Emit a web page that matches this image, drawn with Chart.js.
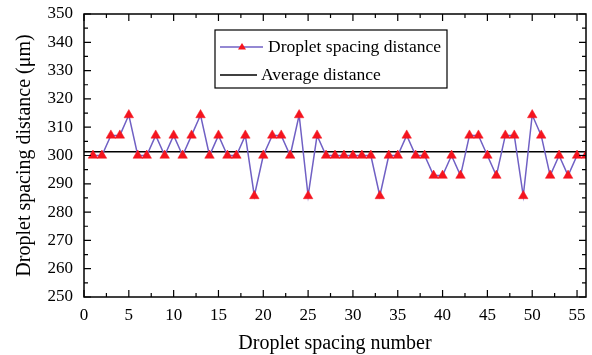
<!DOCTYPE html>
<html>
<head>
<meta charset="utf-8">
<script src="https://cdn.jsdelivr.net/npm/chart.js@4.4.0/dist/chart.umd.min.js"></script>
<style>
html,body{margin:0;padding:0;background:#fff;}
#wrap{width:592px;height:355px;position:relative;}
</style>
</head>
<body>
<div id="wrap"><canvas id="c" width="592" height="355"></canvas></div>
<script>
const spacingNumber = [1,2,3,4,5,6,7,8,9,10,11,12,13,14,15,16,17,18,19,20,21,22,23,24,25,26,27,28,29,30,31,32,33,34,35,36,37,38,39,40,41,42,43,44,45,46,47,48,49,50,51,52,53,54,55,56];
const spacingDistance = [300,300,307.1,307.1,314.3,300,300,307.1,300,307.1,300,307.1,314.3,300,307.1,300,300,307.1,285.7,300,307.1,307.1,300,314.3,285.7,307.1,300,300,300,300,300,300,285.7,300,300,307.1,300,300,292.9,292.9,300,292.9,307.1,307.1,300,292.9,307.1,307.1,285.7,314.3,307.1,292.9,300,292.9,300,300];
const averageDistance = 301.3;
const averageRange = [0,56];
const xTicks = [0,5,10,15,20,25,30,35,40,45,50,55];
const yTicks = [250,260,270,280,290,300,310,320,330,340,350];
const seriesLabels = ["Droplet spacing distance","Average distance"];

const FONT = "'Liberation Serif','Times New Roman',serif";

const frame = {
  id:'frame',
  afterDatasetsDraw(chart){
    const {ctx, chartArea:a, scales:{x,y}} = chart;
    ctx.save();
    ctx.strokeStyle='#000';
    ctx.lineWidth=1.5;
    ctx.strokeRect(a.left,a.top,a.right-a.left,a.bottom-a.top);
    ctx.lineWidth=1.2;
    ctx.beginPath();
    for(let v=0; v<=56; v+=2.5){
      const px=x.getPixelForValue(v);
      if(px>a.right+0.5) break;
      const len = (v%5===0)?7:4;
      ctx.moveTo(px,a.bottom); ctx.lineTo(px,a.bottom-len);
      ctx.moveTo(px,a.top); ctx.lineTo(px,a.top+len);
    }
    for(let v=250; v<=350; v+=5){
      const py=y.getPixelForValue(v);
      const len = (v%10===0)?7:4;
      ctx.moveTo(a.left,py); ctx.lineTo(a.left+len,py);
      ctx.moveTo(a.right,py); ctx.lineTo(a.right-len,py);
    }
    ctx.stroke();

    // legend
    const bx=215, by=30, bw=232, bh=58;
    ctx.fillStyle='#fff';
    ctx.fillRect(bx,by,bw,bh);
    ctx.lineWidth=1.2;
    ctx.strokeRect(bx,by,bw,bh);
    const ds0=chart.data.datasets[0], ds1=chart.data.datasets[1];
    // entry 1
    let ly=by+17;
    ctx.strokeStyle=ds0.borderColor; ctx.lineWidth=1.5;
    ctx.beginPath(); ctx.moveTo(bx+5,ly); ctx.lineTo(bx+48,ly); ctx.stroke();
    ctx.fillStyle=ds0.pointBackgroundColor;
    ctx.beginPath(); ctx.moveTo(bx+27,ly-4); ctx.lineTo(bx+31,ly+2.5); ctx.lineTo(bx+23,ly+2.5); ctx.closePath(); ctx.fill();
    ctx.fillStyle='#000';
    ctx.font="17.5px "+FONT;
    ctx.textBaseline='middle';
    ctx.fillText(ds0.label,bx+53,ly);
    // entry 2
    ly=by+45;
    ctx.strokeStyle=ds1.borderColor; ctx.lineWidth=1.5;
    ctx.beginPath(); ctx.moveTo(bx+5,ly); ctx.lineTo(bx+42,ly); ctx.stroke();
    ctx.fillText(ds1.label,bx+46,ly);
    ctx.restore();
  }
};

new Chart(document.getElementById('c'),{
  type:'line',
  data:{
    datasets:[
      {
        label:seriesLabels[0],
        data:spacingNumber.map((n,i)=>({x:n,y:spacingDistance[i]})),
        borderColor:'#7060c4',
        borderWidth:1.5,
        pointStyle:'triangle',
        pointRadius:5.5,
        pointBackgroundColor:'#f5141e',
        pointBorderColor:'#f5141e',
        pointBorderWidth:0.5,
        tension:0,
        order:0
      },
      {
        label:seriesLabels[1],
        data:averageRange.map(v=>({x:v,y:averageDistance})),
        borderColor:'#000',
        borderWidth:1.5,
        pointRadius:0,
        tension:0,
        order:1
      }
    ]
  },
  options:{
    responsive:false,
    animation:false,
    devicePixelRatio:1,
    layout:{padding:{left:0,right:3,top:14,bottom:0}},
    plugins:{legend:{display:false},tooltip:{enabled:false}},
    scales:{
      x:{
        type:'linear',
        min:0,max:56,
        afterFit(s){ s.height=58; s.paddingLeft=0; s.paddingRight=0; },
        afterBuildTicks(s){ s.ticks = xTicks.map(v=>({value:v})); },
        ticks:{font:{family:FONT,size:17},color:'#000',padding:8,maxRotation:0,autoSkip:false},
        grid:{display:false,drawTicks:false},
        border:{display:false},
        title:{display:true,text:'Droplet spacing number',font:{family:FONT,size:20},color:'#000',padding:{top:0,bottom:-1}}
      },
      y:{
        min:250,max:350,
        afterFit(s){ s.width=84; s.paddingTop=0; s.paddingBottom=0; },
        afterBuildTicks(s){ s.ticks = yTicks.map(v=>({value:v})); },
        ticks:{font:{family:FONT,size:17},color:'#000',padding:11,autoSkip:false},
        grid:{display:false,drawTicks:false},
        border:{display:false},
        title:{display:true,text:'Droplet spacing distance (μm)',font:{family:FONT,size:20},color:'#000',padding:{top:13,bottom:0}}
      }
    }
  },
  plugins:[frame]
});
</script>
</body>
</html>
